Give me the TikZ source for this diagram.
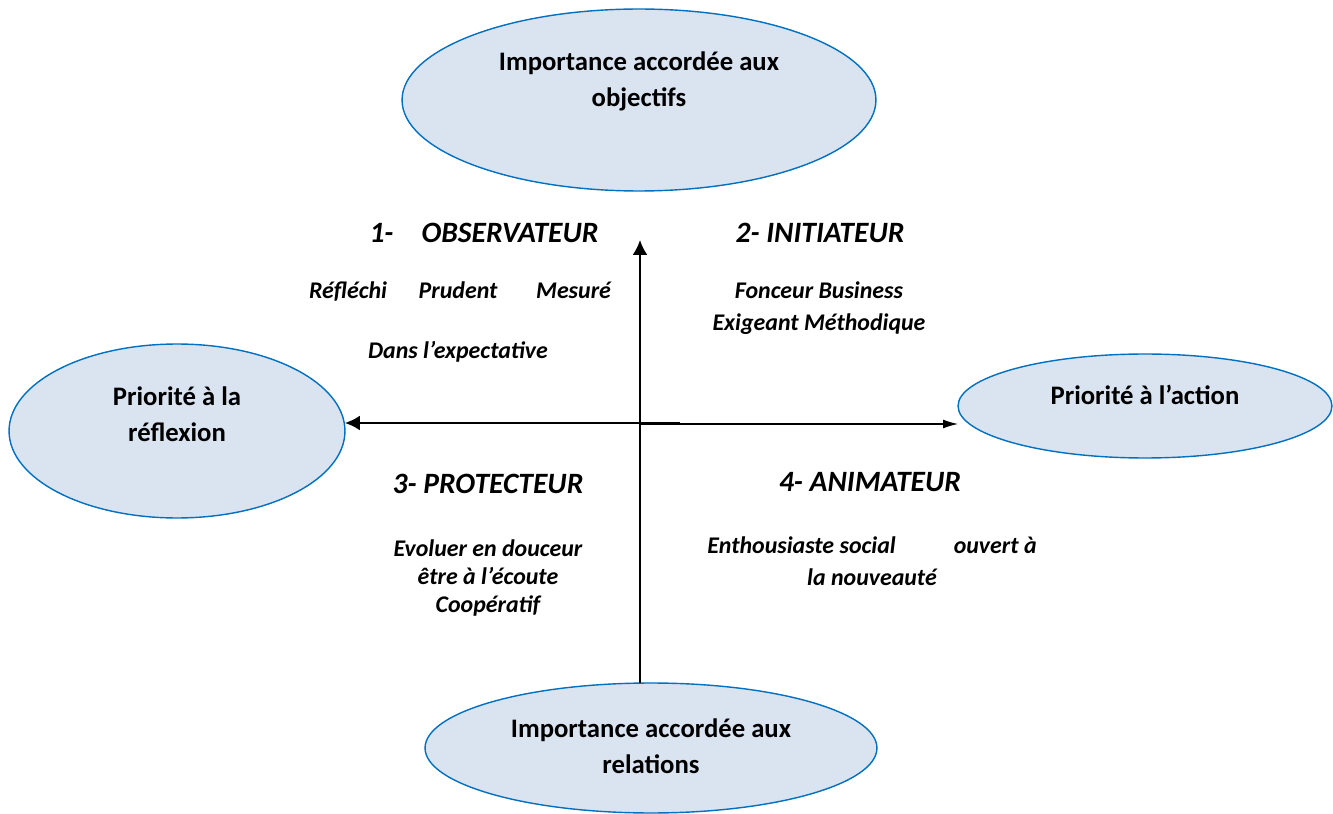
\documentclass[tikz,border=0pt]{standalone}
\usepackage{fontspec}
\setmainfont{Carlito}
\usetikzlibrary{shapes.geometric,arrows.meta}

\definecolor{bulleFond}{HTML}{DAE3F0}
\definecolor{bulleTrait}{HTML}{0070C0}

\tikzset{
  bulle/.style={ellipse, draw=bulleTrait, line width=0.8pt, fill=bulleFond, inner sep=0pt, outer sep=0pt},
  titreBulle/.style={align=center, font=\fontsize{15.2}{20.5}\selectfont\bfseries},
  profil/.style={align=center, font=\fontsize{16.8}{20}\selectfont\bfseries\itshape},
  traits/.style={align=center, font=\fontsize{13.6}{18.5}\selectfont\bfseries\itshape},
  axe/.style={line width=1.1pt, black},
}

\begin{document}
\begin{tikzpicture}[x=0.02cm, y=-0.02cm]
\useasboundingbox (0,0) rectangle (1333,814);

% The four poles
\node[bulle, minimum width=9.48cm, minimum height=3.64cm] (objectifs) at (639,100) {};
\node[titreBulle] (t-objectifs) at (639,81) {Importance accordée aux\\objectifs};
\node[bulle, minimum width=6.72cm, minimum height=3.48cm] (reflexion) at (177,431) {};
\node[titreBulle] (t-reflexion) at (177,414) {Priorité à la\\réflexion};
\node[bulle, minimum width=7.48cm, minimum height=2.08cm] (action) at (1145,406) {};
\node[titreBulle] (t-action) at (1145,395) {Priorité à l’action};
\node[bulle, minimum width=9.04cm, minimum height=2.6cm] (relations) at (651,748) {};
\node[titreBulle] (t-relations) at (651,746) {Importance accordée aux\\relations};

% Axes
\coordinate (haut) at (640,240);
\coordinate (centre) at (640,424);
\coordinate (depart) at (680,423);
\draw[axe, -{Latex[length=8.5pt, width=8.5pt]}] (relations.north -| haut) -- (haut);
\draw[axe, -{Latex[length=8.5pt, width=8.5pt]}] (depart) -- (depart -| reflexion.east);
\draw[line width=0.6pt, -{Latex[length=8.5pt, width=5pt]}] (centre) -- (centre -| action.west);

% Quadrant 1
\node[profil] (observateur) at (484,233) {1-\hspace{16pt}OBSERVATEUR};
\node[traits] (obs-a) at (460,292) {Réfléchi\hspace{18pt}Prudent\hspace{22pt}Mesuré};
\node[traits] (obs-b) at (458,352) {Dans l’expectative};

% Quadrant 2
\node[profil] (initiateur) at (820,233) {2- INITIATEUR};
\node[traits] (ini-a) at (819,308) {Fonceur Business\\Exigeant Méthodique};

% Quadrant 3
\node[profil] (protecteur) at (488,484) {3- PROTECTEUR};
\node[traits, font=\fontsize{13.6}{16.2}\selectfont\bfseries\itshape] (pro-a) at (488,578) {Evoluer en douceur\\être à l’écoute\\Coopératif};

% Quadrant 4
\node[profil] (animateur) at (870,482) {4- ANIMATEUR};
\node[traits, font=\fontsize{13.6}{18}\selectfont\bfseries\itshape] (ani-a) at (872,561) {Enthousiaste social\hspace{33pt}ouvert à\\la nouveauté};
\end{tikzpicture}
\end{document}
